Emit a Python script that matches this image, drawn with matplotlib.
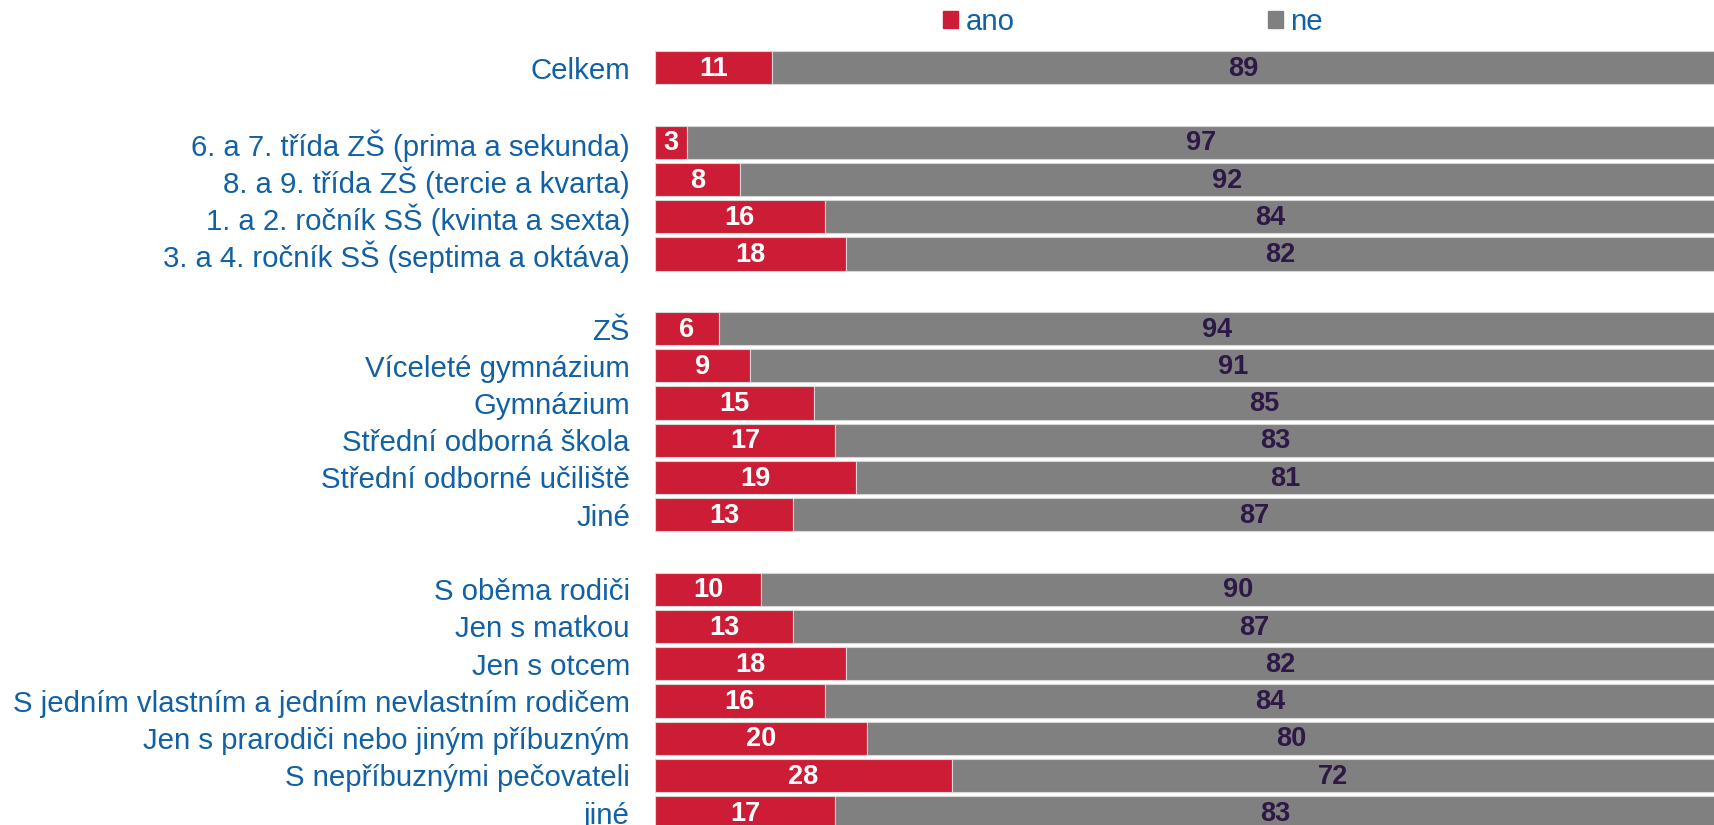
import matplotlib
matplotlib.use("Agg")
import matplotlib.pyplot as plt
from matplotlib.patches import Patch

# rows (None = empty spacer row)
labels = ["Celkem", None,
          "6. a 7. třída ZŠ (prima a sekunda)",
          "8. a 9. třída ZŠ (tercie a kvarta)",
          "1. a 2. ročník SŠ (kvinta a sexta)",
          "3. a 4. ročník SŠ (septima a oktáva)", None,
          "ZŠ", "Víceleté gymnázium", "Gymnázium",
          "Střední odborná škola", "Střední odborné učiliště", "Jiné", None,
          "S oběma rodiči", "Jen s matkou", "Jen s otcem",
          "S jedním vlastním a jedním nevlastním rodičem",
          "Jen s prarodiči nebo jiným příbuzným",
          "S nepříbuznými pečovateli", "jiné"]
ano = [11, None, 3, 8, 16, 18, None, 6, 9, 15, 17, 19, 13, None,
       10, 13, 18, 16, 20, 28, 17]
ne = [89, None, 97, 92, 84, 82, None, 94, 91, 85, 83, 81, 87, None,
      90, 87, 82, 84, 80, 72, 83]

RED = "#cd1c35"
GREY = "#808080"
BLUE = "#1261a4"
DARK = "#2d1846"

plt.rcParams["font.family"] = ["Liberation Sans", "DejaVu Sans"]

fig = plt.figure(figsize=(17.15, 8.25), dpi=100)
ax = fig.add_axes([655 / 1715, 0, 1 - 655 / 1715, 1])

rows = [i for i, l in enumerate(labels) if l is not None]
for i in rows:
    a, n = ano[i], ne[i]
    ax.barh(i, a, height=0.89, color=RED, edgecolor="#d6d6d6", linewidth=0.8)
    ax.barh(i, n, left=a, height=0.89, color=GREY, edgecolor="#d6d6d6", linewidth=0.8)
    ax.text(a / 2, i + 0.03, str(a), ha="center", va="center", color="white",
            fontsize=19.5, fontweight="bold")
    ax.text(a + n / 2, i + 0.03, str(n), ha="center", va="center", color=DARK,
            fontsize=19.5, fontweight="bold")

ax.set_xlim(0, 100)
ax.set_ylim(20.33, -1.82)
ax.set_yticks(rows)
ax.set_yticklabels([labels[i] for i in rows], fontsize=21.2, color=BLUE)
ax.tick_params(axis="y", length=0, pad=18)
ax.set_xticks([])
for s in ax.spines.values():
    s.set_visible(False)

handles = [Patch(color=RED, label="ano"), Patch(color=GREY, label="ne")]
leg = fig.legend(handles=handles, loc="center left",
                 bbox_to_anchor=(943 / 1715, 1 - 22 / 825), ncol=2,
                 frameon=False, fontsize=21.2, handlelength=0.52,
                 handleheight=0.52, handletextpad=0.25, columnspacing=8.6,
                 borderpad=0, borderaxespad=0)
for t in leg.get_texts():
    t.set_color(BLUE)

fig.savefig("out.png", dpi=100)
